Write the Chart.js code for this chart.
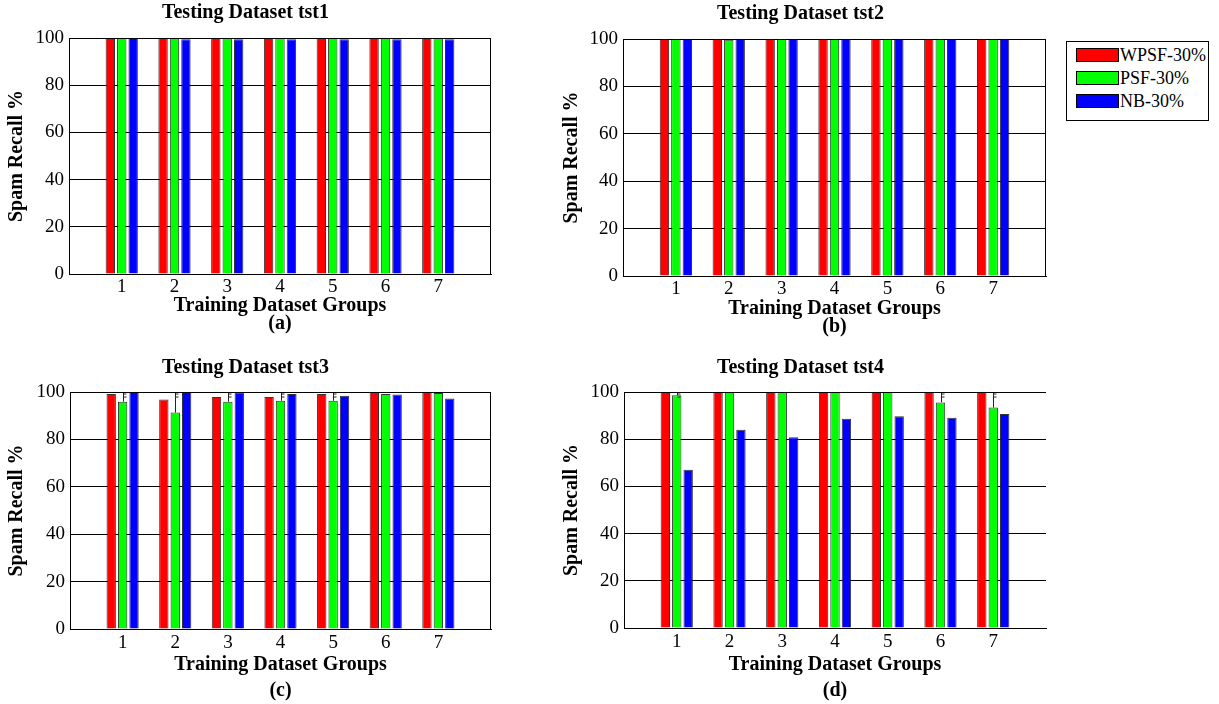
<!DOCTYPE html>
<html>
<head>
<meta charset="utf-8">
<script src="https://cdn.jsdelivr.net/npm/chart.js@4.4.1/dist/chart.umd.min.js"></script>
<style>
  html, body { margin: 0; padding: 0; background: #fff; }
  body { width: 1219px; height: 704px; position: relative; overflow: hidden;
         font-family: 'Liberation Serif', 'Times New Roman', serif; }
  canvas.panel { position: absolute; }
  #legend { position: absolute; left: 1066px; top: 41px; width: 143px; height: 80px;
            border: 1px solid #000; box-sizing: border-box; background: #fff; }
  #legend .sw { position: absolute; left: 9px; width: 43px; height: 14px;
                border: 1px solid #000; box-sizing: border-box; }
  #legend .lb { position: absolute; left: 53px; font-size: 18px; line-height: 18px;
                color: #000; white-space: nowrap; }
</style>
</head>
<body>
<canvas id="pa" class="panel"></canvas>
<canvas id="pb" class="panel"></canvas>
<canvas id="pc" class="panel"></canvas>
<canvas id="pd" class="panel"></canvas>
<div id="legend"></div>
<script>
// ---- data ----
const groups = [1, 2, 3, 4, 5, 6, 7];
const seriesNames = ['WPSF-30%', 'PSF-30%', 'NB-30%'];
const seriesColors = ['#ff0000', '#00ff00', '#0000ff'];
const yTickValues = [0, 20, 40, 60, 80, 100];

// Testing dataset tst1
const tst1Wpsf = [100, 100, 100, 100, 100, 100, 100];
const tst1Psf  = [100, 100, 100, 100, 100, 100, 100];
const tst1Nb   = [100, 99.5, 99.5, 99.5, 99.5, 99.5, 99.5];

// Testing dataset tst2
const tst2Wpsf = [100, 100, 100, 100, 100, 100, 100];
const tst2Psf  = [100, 99.7, 100, 100, 100, 100, 100];
const tst2Nb   = [100, 100, 100, 100, 100, 100, 100];

// Testing dataset tst3
const tst3Wpsf = [99.2, 96.8, 97.9, 97.9, 99.2, 100, 100];
const tst3Psf  = [95.9, 91.3, 95.9, 96.3, 96.3, 99.2, 99.6];
const tst3Nb   = [100, 100, 99.7, 99.2, 98.4, 98.9, 97.3];
const tst3PsfUpper = [100, 100, 100, 100, 100, null, null];

// Testing dataset tst4
const tst4Wpsf = [100, 100, 100, 100, 100, 100, 100];
const tst4Psf  = [98.6, 100, 100, 100, 100, 95.6, 93.4];
const tst4Nb   = [67.1, 84.0, 80.8, 88.7, 89.7, 89.1, 90.7];
const tst4PsfUpper = [100, null, null, null, null, 100, 100];

const FONT = "'Liberation Serif', 'Times New Roman', serif";

// plot box: top edge and (optionally) right edge
const framePlugin = {
  id: 'frame',
  afterDraw(chart, args, opts) {
    const { ctx, chartArea: a } = chart;
    ctx.save();
    ctx.strokeStyle = '#000';
    ctx.lineWidth = 1;
    ctx.beginPath();
    const t = Math.round(a.top) + 0.5, r = Math.round(a.right) - 0.5;
    ctx.moveTo(Math.round(a.left), t);
    ctx.lineTo(Math.round(a.right), t);
    if (opts.right !== false) {
      ctx.moveTo(r, Math.round(a.top));
      ctx.lineTo(r, Math.round(a.bottom));
    }
    ctx.stroke();
    ctx.restore();
  }
};

// upper whiskers on the PSF bars
const whiskerPlugin = {
  id: 'whisker',
  afterDatasetsDraw(chart, args, opts) {
    const upper = opts.upper;
    if (!upper) return;
    const meta = chart.getDatasetMeta(1);
    const ys = chart.scales.y;
    const { ctx } = chart;
    ctx.save();
    ctx.strokeStyle = '#222';
    ctx.lineWidth = 1;
    upper.forEach((u, i) => {
      if (u == null) return;
      const bar = meta.data[i];
      const x = Math.round(bar.x) + 0.5;
      const yTop = ys.getPixelForValue(u);
      ctx.beginPath();
      ctx.moveTo(x, bar.y);
      ctx.lineTo(x, yTop);
      ctx.moveTo(x, yTop + 2);
      ctx.lineTo(x + 3, yTop + 2);
      ctx.moveTo(x, yTop + 5);
      ctx.lineTo(x + 3, yTop + 5);
      ctx.stroke();
    });
    ctx.restore();
  }
};

function makePanel(id, g, title, letter, series, upper) {
  const cv = document.getElementById(id);
  cv.width = g.w; cv.height = g.h;
  cv.style.left = g.left + 'px'; cv.style.top = g.top + 'px';
  cv.style.width = g.w + 'px'; cv.style.height = g.h + 'px';

  const datasets = series.map((vals, s) => ({
    label: seriesNames[s],
    data: groups.map((gx, i) => ({ x: gx, y: vals[i] })),
    backgroundColor: seriesColors[s],
    borderColor: 'rgba(30,30,30,0.9)',
    borderWidth: 1,
    categoryPercentage: 0.65,
    barPercentage: 0.82
  }));

  return new Chart(cv, {
    type: 'bar',
    data: { datasets },
    plugins: [framePlugin, whiskerPlugin],
    options: {
      responsive: false,
      animation: false,
      devicePixelRatio: 1,
      layout: { padding: { left: 0, right: g.rightPad, top: 0, bottom: 0 } },
      plugins: {
        legend: { display: false },
        tooltip: { enabled: false },
        title: {
          display: true,
          text: title,
          color: '#000',
          font: { family: FONT, size: 20, weight: 'bold', lineHeight: '20px' },
          padding: { top: g.titleTop, bottom: g.titleBottom }
        },
        frame: { right: g.rightBorder },
        whisker: { upper }
      },
      scales: {
        x: {
          type: 'linear',
          offset: false,
          min: 0, max: 8,
          afterBuildTicks: (s) => { s.ticks = [0].concat(groups, [8]).map(v => ({ value: v })); },
          afterFit: (s) => { s.height = g.xAxisH; },
          ticks: {
            color: '#000',
            font: { family: FONT, size: 19 },
            padding: g.xTickPad,
            maxRotation: 0,
            callback: (v) => (groups.includes(v) ? String(v) : '')
          },
          grid: { display: false, drawTicks: false, offset: false },
          border: { display: true, color: '#000', width: 1 },
          title: {
            display: true,
            text: ['Training Dataset Groups', '(' + letter + ')'],
            color: '#000',
            font: { family: FONT, size: 20, weight: 'bold', lineHeight: g.xTitleLH + 'px' },
            padding: { top: 0, bottom: g.xTitleBottom }
          }
        },
        y: {
          min: 0, max: 100,
          afterBuildTicks: (s) => { s.ticks = yTickValues.map(v => ({ value: v })); },
          afterFit: (s) => { s.width = g.yAxisW; },
          ticks: {
            color: '#000',
            font: { family: FONT, size: 19 },
            padding: 5
          },
          grid: { color: '#000', lineWidth: 1, drawTicks: false },
          border: { display: true, color: '#000', width: 1 },
          title: {
            display: true,
            text: 'Spam Recall %',
            color: '#000',
            font: { family: FONT, size: 20, weight: 'bold', lineHeight: '20px' },
            padding: { top: 7, bottom: 0 }
          }
        }
      }
    }
  });
}

makePanel('pa',
  { left: 0, top: 0, w: 560, h: 340, yAxisW: 69, rightPad: 69, titleTop: 3, titleBottom: 15,
    xAxisH: 66, xTickPad: 2, xTitleLH: 18, xTitleBottom: 7, rightBorder: true },
  'Testing Dataset tst1', 'a', [tst1Wpsf, tst1Psf, tst1Nb], null);

makePanel('pb',
  { left: 555, top: 1, w: 559, h: 340, yAxisW: 68, rightPad: 68, titleTop: 3, titleBottom: 15,
    xAxisH: 65, xTickPad: 2, xTitleLH: 18, xTitleBottom: 5, rightBorder: true },
  'Testing Dataset tst2', 'b', [tst2Wpsf, tst2Psf, tst2Nb], null);

makePanel('pc',
  { left: 0, top: 340, w: 561, h: 364, yAxisW: 70, rightPad: 70, titleTop: 18, titleBottom: 14,
    xAxisH: 75, xTickPad: 3, xTitleLH: 26, xTitleBottom: 0, rightBorder: true },
  'Testing Dataset tst3', 'c', [tst3Wpsf, tst3Psf, tst3Nb], tst3PsfUpper);

makePanel('pd',
  { left: 555, top: 340, w: 560, h: 364, yAxisW: 69, rightPad: 69, titleTop: 18, titleBottom: 14,
    xAxisH: 76, xTickPad: 3, xTitleLH: 26, xTitleBottom: 0, rightBorder: false },
  'Testing Dataset tst4', 'd', [tst4Wpsf, tst4Psf, tst4Nb], tst4PsfUpper);

// legend box
const legend = document.getElementById('legend');
seriesNames.forEach((name, i) => {
  const top = 6 + i * 23;
  const sw = document.createElement('div');
  sw.className = 'sw';
  sw.style.top = top + 'px';
  sw.style.background = seriesColors[i];
  const lb = document.createElement('div');
  lb.className = 'lb';
  lb.style.top = (top - 2) + 'px';
  lb.textContent = name;
  legend.appendChild(sw);
  legend.appendChild(lb);
});
</script>
</body>
</html>
